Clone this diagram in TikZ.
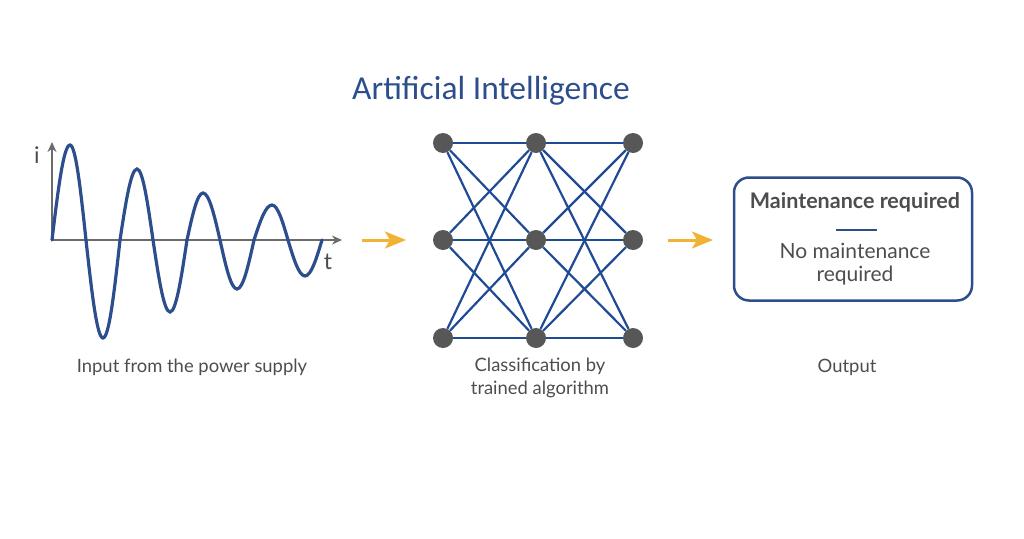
\documentclass[tikz,border=0pt]{standalone}
\usepackage{fontspec}
\setmainfont{Lato}
\newfontfamily\titlefont{Carlito}
\usetikzlibrary{arrows.meta,positioning}
\definecolor{aiblue}{HTML}{2C4E8C}
\definecolor{netblue}{HTML}{1F4B96}
\definecolor{dotgray}{HTML}{575757}
\definecolor{textgray}{HTML}{4D4D4D}
\definecolor{axisgray}{HTML}{6B6B6B}
\definecolor{arroworange}{HTML}{F2B233}

\begin{document}
\begin{tikzpicture}[x=1pt, y=-1pt,
    neuron/.style={circle, fill=dotgray, inner sep=0pt, minimum size=20pt},
    link/.style={draw=netblue, line width=2.2pt},
    caption/.style={font=\fontsize{18.4}{23}\selectfont, text=textgray, align=center},
    axisline/.style={draw=axisgray, line width=1.5pt, -{Stealth[length=10pt, width=9pt]}},
    flow/.style={draw=arroworange, line width=3pt, -{Stealth[length=21pt, width=17pt, inset=5pt]}},
    outbox/.style={draw=aiblue, line width=2.5pt, rounded corners=15pt, minimum width=238pt, minimum height=123pt}]
  \useasboundingbox (0,0) rectangle (1024,538);

  \node[font=\titlefont\fontsize{33.5}{38}\selectfont, text=aiblue] (title) at (491,91) {Artificial Intelligence};

  % current over time
  \coordinate (o) at (52,240);
  \coordinate (itip) at (52,142);
  \coordinate (ttip) at (342,240);
  \draw[axisline] (o) -- (itip);
  \draw[axisline] (o) -- (ttip);
  \node[font=\fontsize{23}{25}\selectfont, text=textgray] (ilabel) at (37,155) {i};
  \node[font=\fontsize{23}{25}\selectfont, text=textgray] (tlabel) at (328,262) {t};
  \draw[aiblue, line width=3.2pt, line cap=round]
    (o) sin (70,145) cos (86,240) sin (103,338) cos (120,240)
    sin (137,169) cos (153,240) sin (170,312) cos (187,240)
    sin (203,193) cos (220,240) sin (237,289) cos (254,240)
    sin (272,205) cos (288,240) sin (305,276) cos (322,240);
  \node[caption] (incap) at (192,367) {Input from the power supply};

  \coordinate (f1s) at (362,240);
  \coordinate (f1e) at (406,240);
  \draw[flow] (f1s) -- (f1e);

  % network
  \foreach \c/\x in {1/443,2/536,3/633}
    \foreach \r/\y in {1/143,2/240,3/338}
      \node[neuron] (n\c\r) at (\x,\y) {};
  \foreach \r in {1,2,3}
    \foreach \s in {1,2,3} {
      \draw[link] (n1\r) -- (n2\s);
      \draw[link] (n2\r) -- (n3\s);
    }
  \node[caption] (netcap) at (540,378) {Classification by\\trained algorithm};

  \coordinate (f2s) at (668,240);
  \coordinate (f2e) at (713,240);
  \draw[flow] (f2s) -- (f2e);

  % output
  \node[outbox] (out) at (853,239) {};
  \node[font=\bfseries\fontsize{21.5}{24}\selectfont, text=textgray] (yes) at (855,202) {Maintenance required};
  \coordinate (seps) at (836,230);
  \coordinate (sepe) at (877,230);
  \draw[aiblue, line width=2pt] (seps) -- (sepe);
  \node[caption, font=\fontsize{21}{23}\selectfont] (no) at (855,264) {No maintenance\\required};
  \node[caption] (outcap) at (847,367) {Output};
\end{tikzpicture}
\end{document}
